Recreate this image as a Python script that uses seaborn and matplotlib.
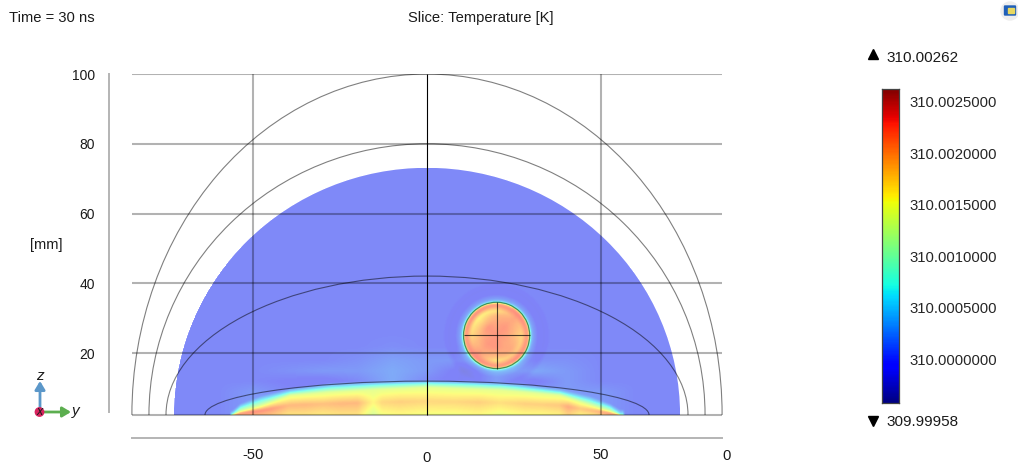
import numpy as np
import matplotlib
matplotlib.use("Agg")
import matplotlib.pyplot as plt
from matplotlib.colors import ListedColormap
from matplotlib.patches import Arc, Rectangle, Circle, FancyBboxPatch
import seaborn as sns

# ---- values (temperatures are offsets from 310 K, in K) ----
T_MIN_LABEL = "309.99958"
T_MAX_LABEL = "310.00262"
T_MIN, T_MAX = -0.00042, 0.00262
CBAR_TICKS = [0.0025, 0.0020, 0.0015, 0.0010, 0.0005, 0.0]
CBAR_LABELS = ["310.0025000", "310.0020000", "310.0015000", "310.0010000", "310.0005000", "310.0000000"]
Y_TICKS = [20, 40, 60, 80, 100]
X_TICKS = [-50, 0, 50]
GRID_X = [-50, 50]
Z_BASE = 2.3

# half-ellipse outlines (half width, top z) in mm
SHELLS = [(84.8, 100.0), (79.9, 80.0), (75.0, 42.1), (63.8, 12.0)]
SLICE_RX, SLICE_TOP = 72.7, 73.1

# hot band along the base: isotherm heights above base (mm) per x (mm)
band_x =      [-56.0, -53.7, -48.0, -39.4, -27.9, -13.5, 0.0, 21.0, 38.2, 46.8, 52.6, 55.5]
band_yellow = [0.0, 1.1, 2.6, 5.7, 6.6, 7.4, 8.0, 7.2, 5.7, 2.9, 1.1, 0.0]
band_cyan =   [0.3, 2.3, 4.3, 6.6, 8.0, 8.8, 9.2, 8.6, 6.6, 4.3, 2.3, 0.3]
band_end =    [1.4, 3.4, 5.7, 7.7, 9.2, 9.8, 10.0, 9.7, 7.7, 5.7, 3.4, 1.7]
peak_x = [-56, -50, -45, -40, -35, -30, -25, -20, -15.5, -13, -8, 0, 8, 15, 21, 28, 33, 38, 40.5, 44, 48, 52, 55]
peak_T = [22, 23, 22, 20, 20, 19.5, 20, 20, 16, 18, 18.5, 18, 18, 18.5, 17.5, 18.5, 18.5, 19, 21, 19, 20, 22, 22]  # 1e-4 K

# faint halo in the tissue, 1e-4 K
halo_x = [-70, -60, -50, -40, -30, -20, -10, 0, 10, 20, 30, 40, 50, 60, 70]
halo_z = [2.3, 6, 9, 12, 15, 18, 22, 26, 30, 35]
halo_T = [
    [0, 0, 1, 1, 1, 1, 1, 1, 1, 1, 1, 1, 1, 0, 0],
    [0, 0, 1, 1, 1, 1, 1, 1, 1, 1, 1, 1, 1, 0, 0],
    [0, 0, 1, 0, 0, 1, 1, 1, 1, 1, 1, 1, 1, 0, 0],
    [0, 0, 0, -0.5, -1, 0, 2, 0, -1, 2, -1, 1, 0, 0, 0],
    [0, 0, 0, 0.5, 1, 1, 2, 1, -1, 1, 2, 1, 0, 0, 0],
    [0, 0, 0, 0, 0, 0.5, 1.5, 1, 1, 0, 0.5, 0.5, 0, 0, 0],
    [0, 0, 0, 0, 0, 0, 0.3, 0, 0, 0, 0, 0, 0, 0, 0],
    [0, 0, 0, 0, 0, 0, 0, 0, 0, 0, 0, 0, 0, 0, 0],
    [0, 0, 0, 0, 0, 0, 0, 0, 0, 0, 0, 0, 0, 0, 0],
    [0, 0, 0, 0, 0, 0, 0, 0, 0, 0, 0, 0, 0, 0, 0],
]

# the heated sphere
BALL_X, BALL_Z, BALL_R = 20.0, 25.1, 9.5
ball_angles = [0, 45, 90, 135, 180, 225, 270, 315]
ball_radii = [0.0, 0.35, 0.6, 0.75, 0.9, 0.97, 1.0]
ball_T = [
    [22, 22, 22, 22, 22, 22, 22, 22],
    [21, 22, 21, 22, 21, 22, 22, 21],
    [19, 21, 20, 18, 19, 21, 20, 21],
    [18, 21, 17, 16, 18, 22, 17, 19],
    [22, 23, 22, 23, 22, 23, 22, 23],
    [20, 20, 20, 20, 20, 20, 20, 20],
    [12, 12, 12, 12, 12, 12, 12, 12],
]
ring_r = [1.0, 1.04, 1.1, 1.25, 1.45, 1.6]
ring_T = [10, 4, 1.5, -0.5, -1, 0]

W, H = 1018, 463
PX_X0, PX_PER_MM_X = 427.0, 3.48
PX_Z0, PX_PER_MM_Z = 423.0, 3.49

sns.set_style("white")
plt.rcParams["font.family"] = ["Liberation Sans", "DejaVu Sans"]
plt.rcParams["text.color"] = "#1a1a1a"

fig = plt.figure(figsize=(W / 100, H / 100), dpi=100, facecolor="white")


def axes_px(x0, y0, x1, y1, **kw):
    return fig.add_axes([x0 / W, 1 - y1 / H, (x1 - x0) / W, (y1 - y0) / H], **kw)


def x_mm(px):
    return (px - PX_X0) / PX_PER_MM_X


def z_mm(py):
    return (PX_Z0 - py) / PX_PER_MM_Z


# ---- temperature field on a half-pixel grid ----
F_X0, F_X1, F_Y0, F_Y1 = 174, 680, 168, 415
nx, ny = (F_X1 - F_X0) * 2, (F_Y1 - F_Y0) * 2
xs = x_mm(F_X0 + (np.arange(nx) + 0.5) / 2)
zs = z_mm(F_Y0 + (np.arange(ny) + 0.5) / 2)
XX, ZZ = np.meshgrid(xs, zs)

A = np.array([np.interp(xs, halo_x, row) for row in halo_T])
T = np.array([np.interp(zs[::-1], halo_z, A[:, j])[::-1] for j in range(nx)]).T * 1e-4

# band
yl = np.interp(xs, band_x, band_yellow)
cy = np.interp(xs, band_x, band_cyan)
en = np.interp(xs, band_x, band_end)
pk = np.interp(xs, peak_x, peak_T) * 1e-4
H_Z = zs - Z_BASE
for j in range(nx):
    if abs(xs[j]) > 56.5:
        continue
    xp = [0, yl[j] * 0.5 + 0.01, yl[j] + 0.02, cy[j] + 0.03, en[j] + 0.04]
    fp = [pk[j] - 0.0003, pk[j], 0.0014, 0.0006, 0.0]
    col = np.interp(H_Z, xp, fp)
    T[:, j] = np.where(H_Z < en[j] + 0.04, np.maximum(T[:, j], col), T[:, j])

# sphere
rr = np.hypot(XX - BALL_X, ZZ - BALL_Z) / BALL_R
th = np.degrees(np.arctan2(ZZ - BALL_Z, XX - BALL_X)) % 360
T += (rr > 1) * np.interp(rr, ring_r, ring_T) * 1e-4
inside = rr <= 1
stack = np.array([np.interp(th[inside], ball_angles, row, period=360) for row in ball_T])
idx = np.clip(np.searchsorted(ball_radii, rr[inside]) - 1, 0, len(ball_radii) - 2)
r0 = np.array(ball_radii)[idx]
r1 = np.array(ball_radii)[idx + 1]
w = (rr[inside] - r0) / (r1 - r0)
pick = np.arange(idx.size)
T[inside] = ((1 - w) * stack[idx, pick] + w * stack[idx + 1, pick]) * 1e-4

# slight softening, as in the rendered original
kernel = np.ones(5) / 5
pad = 2
Tp = np.pad(T, pad, mode="edge")
Tp = np.apply_along_axis(lambda v: np.convolve(v, kernel, mode="same"), 0, Tp)
Tp = np.apply_along_axis(lambda v: np.convolve(v, kernel, mode="same"), 1, Tp)
T = Tp[pad:-pad, pad:-pad]

outside = (xs[None, :] / (SLICE_RX + 0.1)) ** 2 + ((zs[:, None] - Z_BASE) / (SLICE_TOP - Z_BASE + 0.1)) ** 2 > 1

jet = plt.get_cmap("jet")(np.linspace(0, 1, 256))
jet[:, 2] *= 0.95
jet[:, 1] = np.minimum(1, jet[:, 1] + 0.03)
field_cmap = ListedColormap(jet)

ax_f = axes_px(F_X0, F_Y0, F_X1, F_Y1, zorder=1)
sns.heatmap(T, mask=outside, cmap=field_cmap, vmin=T_MIN, vmax=T_MAX, alpha=0.5, cbar=False,
            xticklabels=False, yticklabels=False, ax=ax_f, rasterized=True)
ax_f.set_axis_off()

# ---- main axes with geometry, in mm ----
ax = axes_px(109, 74, 745, 438, zorder=2)
ax.patch.set_alpha(0)

# white stroke giving the slice a smooth edge
ax.add_patch(Arc((0, Z_BASE), 2 * (SLICE_RX + 0.42), 2 * (SLICE_TOP - Z_BASE + 0.42), theta1=0, theta2=180,
                 color="white", lw=2.0, zorder=0.5))

grid_kw = dict(color="black", alpha=0.3, lw=1.5)
ax.hlines(Y_TICKS + [Z_BASE], -SHELLS[0][0], SHELLS[0][0], **grid_kw)
ax.vlines(GRID_X, Z_BASE, 100, **grid_kw)
ax.vlines(0, Z_BASE, 100, color="black", lw=0.8)

for rx, top in SHELLS:
    ax.add_patch(Arc((0, Z_BASE), 2 * rx, 2 * (top - Z_BASE), theta1=0, theta2=180,
                     color="black", alpha=0.5, lw=0.8))

ax.add_patch(Arc((BALL_X, BALL_Z), 2 * BALL_R, 2 * BALL_R, theta1=0, theta2=360,
                 color="#1f6f50", alpha=0.8, lw=0.9))
ax.hlines(BALL_Z, BALL_X - BALL_R, BALL_X + BALL_R, color="black", alpha=0.7, lw=0.8)
ax.vlines(BALL_X, BALL_Z - BALL_R, BALL_Z + BALL_R, color="black", alpha=0.7, lw=0.8)

for s in ["top", "right"]:
    ax.spines[s].set_visible(False)
ax.spines["left"].set_color("#b4b4b4")
ax.spines["left"].set_linewidth(1.4)
ax.spines["left"].set_bounds(z_mm(412), 100)
ax.spines["bottom"].set_color("#b4b4b4")
ax.spines["bottom"].set_linewidth(1.4)
ax.spines["bottom"].set_bounds(-SHELLS[0][0], SHELLS[0][0])

ax.set_yticks(Y_TICKS)
ax.set_xticks(X_TICKS + [x_mm(727)])
ax.set_xticklabels([str(v) for v in X_TICKS] + ["0"])
ax.set_xlim(x_mm(109), x_mm(745))
ax.set_ylim(z_mm(438), 100)
ax.tick_params(axis="x", length=0, labelsize=10.6, labelcolor="#1a1a1a", pad=7)
ax.tick_params(axis="y", length=0, labelsize=10, labelcolor="#1a1a1a", pad=10)
for lbl, tick in zip(ax.get_xticklabels(), ax.xaxis.get_major_ticks()):
    if lbl.get_text() == "0" and abs(tick.get_loc()) < 1:
        tick.set_pad(9)
    elif lbl.get_text() == "0":
        tick.set_pad(8)

# ---- colour bar ----
n_grad = 256
grad = np.linspace(T_MAX, T_MIN, n_grad)[:, None]
ax_c = axes_px(882, 89, 899, 403, zorder=2)
sns.heatmap(grad, cmap="jet", vmin=T_MIN, vmax=T_MAX, cbar=False, xticklabels=False, ax=ax_c)
ax_c.set_yticks([(T_MAX - v) / (T_MAX - T_MIN) * n_grad for v in CBAR_TICKS])
ax_c.set_yticklabels(CBAR_LABELS, rotation=0)
ax_c.tick_params(axis="y", left=True, right=True, labelleft=False, labelright=True,
                 direction="in", length=2.5, width=0.8, color="#222222", labelsize=10.7, pad=7.5)
for s in ax_c.spines.values():
    s.set_visible(True)
    s.set_color("#444444")
    s.set_linewidth(0.9)

# ---- overlay in pixel coordinates: annotations ----
ov = axes_px(0, 0, W, H, zorder=3)
ov.set_xlim(0, W)
ov.set_ylim(H, 0)
ov.set_axis_off()
ov.patch.set_alpha(0)

ov.text(9, 18, "Time = 30 ns", fontsize=10.6, va="center", ha="left")
ov.text(481, 18, "Slice: Temperature [K]", fontsize=10.6, va="center", ha="center")
ov.text(46, 245, "[mm]", fontsize=10.6, va="center", ha="center")
ov.plot([873], [54], marker="^", color="black", ms=7, ls="none")
ov.plot([873], [421], marker="v", color="black", ms=7, ls="none")
ov.text(886, 57.5, T_MAX_LABEL, fontsize=11, va="center", ha="left")
ov.text(886, 422.5, T_MIN_LABEL, fontsize=11, va="center", ha="left")

# orientation triad
ov.annotate("", xy=(40, 381), xytext=(40, 412),
            arrowprops=dict(arrowstyle="-|>,head_width=0.3,head_length=0.5", color="#5b97c9", lw=2, shrinkA=0, shrinkB=0))
ov.annotate("", xy=(71, 412), xytext=(40, 412),
            arrowprops=dict(arrowstyle="-|>,head_width=0.3,head_length=0.5", color="#5cae4f", lw=2, shrinkA=0, shrinkB=0))
ov.add_patch(Circle((39.5, 412), 4.2, color="#d8245f", zorder=5))
ov.text(39.5, 412, "x", fontsize=9, style="italic", va="center", ha="center", zorder=6)
ov.text(40, 376, "z", fontsize=11, style="italic", va="center", ha="center")
ov.text(76, 411, "y", fontsize=11, style="italic", va="center", ha="center")

# application icon, top right corner
ov.add_patch(Circle((1010, 11), 9, color="#eeeeee", zorder=1))
ov.add_patch(FancyBboxPatch((1005, 6.5), 10, 8, boxstyle="round,pad=0.5", color="#1f5fb8", zorder=2))
ov.add_patch(Rectangle((1008, 8), 6, 5, color="#e8d860", zorder=3))

fig.savefig("out.png", dpi=100, facecolor="white")
